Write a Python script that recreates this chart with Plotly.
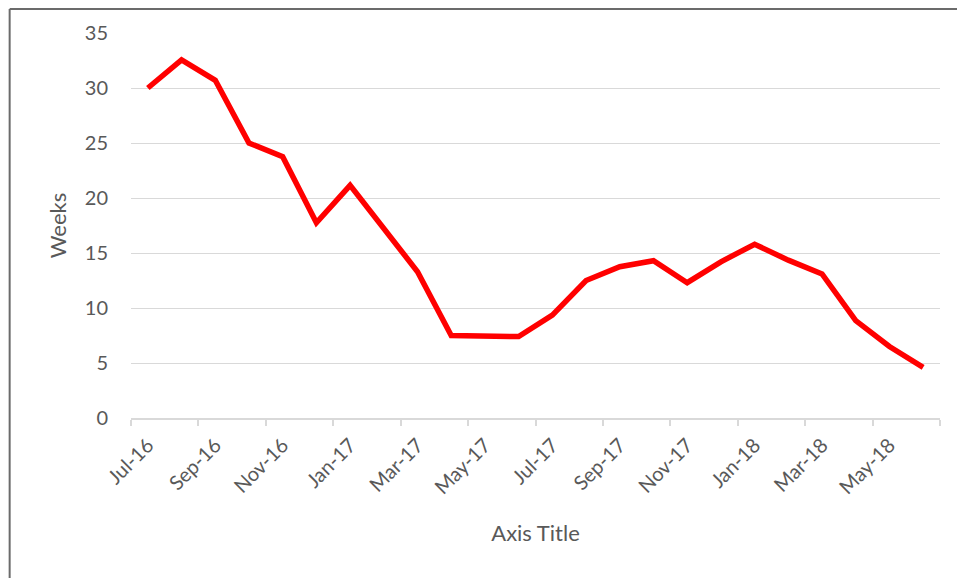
import plotly.graph_objects as go

mois = ["Jul-16", "Aug-16", "Sep-16", "Oct-16", "Nov-16", "Dec-16",
        "Jan-17", "Feb-17", "Mar-17", "Apr-17", "May-17", "Jun-17",
        "Jul-17", "Aug-17", "Sep-17", "Oct-17", "Nov-17", "Dec-17",
        "Jan-18", "Feb-18", "Mar-18", "Apr-18", "May-18", "Jun-18"]
semaines = [30.0, 32.55, 30.7, 25.0, 23.75, 17.75,
            21.15, 17.15, 13.3, 7.5, 7.4, 7.4,
            9.35, 12.5, 13.75, 14.3, 12.3, 14.2,
            15.8, 14.35, 13.1, 8.85, 6.5, 4.6]
y_ticks = [0, 5, 10, 15, 20, 25, 30, 35]

idx = list(range(len(mois)))
gris = "#595959"
police = "Lato"

fig = go.Figure()
fig.add_trace(go.Scatter(x=idx, y=semaines, mode="lines",
                         line=dict(color="#ff0000", width=5.5), showlegend=False))

# la page ajoute ~8px de marge, on compense
fig.update_layout(
    width=965, height=578,
    margin=dict(l=123, r=33, t=25, b=168),
    paper_bgcolor="white", plot_bgcolor="white",
    font=dict(family=police, color=gris, size=20),
    xaxis=dict(
        range=[-0.5, len(mois) - 0.5],
        tickvals=idx[::2], ticktext=mois[::2], tickangle=-45,
        ticks="", showgrid=False, zeroline=False,
        showline=True, linecolor="#d9d9d9", linewidth=1.5,
        ticklabelstandoff=6,
        tickfont=dict(size=20, color=gris),
        minor=dict(tickvals=[i - 0.5 for i in range(0, len(mois) + 1, 2)],
                   ticks="outside", ticklen=6, tickcolor="#d9d9d9", tickwidth=1.5,
                   showgrid=False),
        title=dict(text="Axis Title", font=dict(size=22, color=gris), standoff=28),
    ),
    yaxis=dict(
        range=[0, 35], tickvals=y_ticks,
        showgrid=True, gridcolor="#d9d9d9", gridwidth=1.3,
        zeroline=False, showline=False, ticks="",
        ticklabelstandoff=22,
        tickfont=dict(size=20, color=gris),
        title=dict(text="Weeks", font=dict(size=22, color=gris), standoff=12),
    ),
)

# cadre gris du graphique (bords gauche et haut visibles)
fig.add_shape(type="line", xref="paper", yref="paper",
              x0=-0.150, x1=-0.150, y0=-1.0, y1=1.0623,
              line=dict(color="#6b6b6b", width=2))
fig.add_shape(type="line", xref="paper", yref="paper",
              x0=-0.150, x1=1.2, y0=1.0623, y1=1.0623,
              line=dict(color="#6b6b6b", width=2))

fig.write_html("out.html")
